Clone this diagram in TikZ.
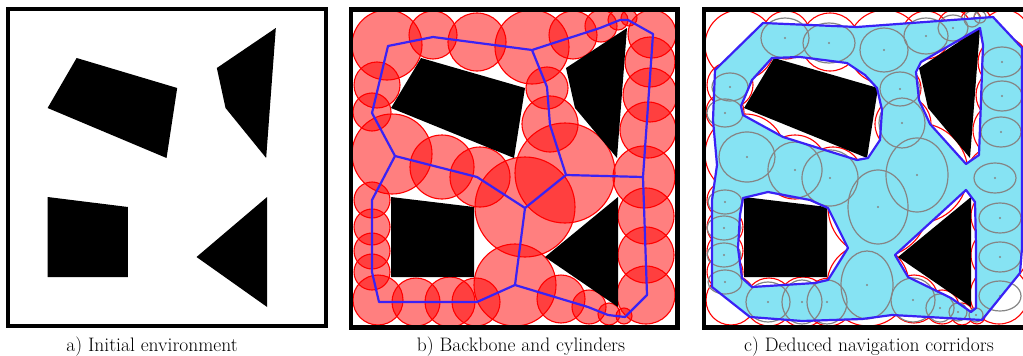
\documentclass[tikz,border=0pt]{standalone}
\usepackage{tikz}
\definecolor{Spine}{HTML}{3A22F5}
\definecolor{Corridor}{HTML}{86E3F3}
\definecolor{Gate}{HTML}{858585}

% the four obstacles, in panel coordinates
\newcommand{\obstacles}{%
  \fill[obst] (72,50) -- (176,80) -- (165,150) -- (42,100) -- cycle;
  \fill[obst] (217,60) -- (278,20) -- (268,150) -- (226,100) -- cycle;
  \fill[obst] (42,189) -- (125,199) -- (125,269) -- (42,269) -- cycle;
  \fill[obst] (269,189) -- (269,299) -- (196,249) -- cycle;
}
% cylinders along the backbone: x/y/radius
\newcommand{\cylinders}[1]{%
  \foreach \cx/\cy/\cr in {38/37/35, 84/27/24, 128/34/29, 183/39/37, 224/27/24,
      252/18/16, 269/12/10, 280/10/8, 303/26/24, 301/54/25, 301/87/27, 299/122/28,
      295/169/31, 297/208/28, 297/247/28, 297/287/29, 275/308/8, 260/306/11,
      240/299/17, 212/291/24, 166/277/41, 127/294/24, 101/294/25, 67/294/24,
      29/292/25, 23/264/18, 23/243/18, 23/219/18, 23/192/18, 43/146/40,
      23/104/19, 28/77/23, 93/159/32, 131/169/30, 176/199/50, 216/165/50,
      201/116/28, 198/80/21}
    \draw[#1] (\cx,\cy) circle [radius=\cr];
}

\begin{document}
\begin{tikzpicture}[
  x=1pt, y=-1pt,
  obst/.style={fill=black},
  frameline/.style={draw=black, line width=4.5pt},
  cyl/.style={draw=red, fill=red, fill opacity=0.5, line width=1.1pt},
  cylring/.style={draw=red, line width=1.1pt},
  gate/.style={draw=Gate, line width=1.2pt},
  spine/.style={draw=Spine, line width=2.2pt, line join=round},
  caption/.style={anchor=base, font=\fontsize{19.5}{23}\selectfont}
]
  \useasboundingbox (0,0) rectangle (1023,356);
  \clip (0,0) rectangle (1023,356);

  % a) initial environment
  \begin{scope}[shift={(7,8)}, xscale=0.967]
    \obstacles
    \draw[frameline] (1,1) rectangle (330,318);
  \end{scope}
  \node[caption] (capA) at (152,351) {a) Initial environment};

  % b) backbone and cylinders
  \begin{scope}[shift={(349,8)}]
    \cylinders{cyl}
    \obstacles
    \coordinate (bA) at (39,38);
    \coordinate (bB) at (84,29);
    \coordinate (bC) at (183,42);
    \coordinate (bD) at (251,20);
    \coordinate (bE) at (271,12);
    \coordinate (bF) at (279,12);
    \coordinate (bG) at (304,26);
    \coordinate (bH) at (294,169);
    \coordinate (bI) at (298,287);
    \coordinate (bJ) at (276,309);
    \coordinate (bK) at (259,307);
    \coordinate (bKk) at (239,299);
    \coordinate (bL) at (166,277);
    \coordinate (bM) at (128,294);
    \coordinate (bN) at (30,294);
    \coordinate (bO) at (23,264);
    \coordinate (bP) at (23,192);
    \coordinate (bQ) at (46,148);
    \coordinate (bR) at (23,105);
    \coordinate (bS) at (198,79);
    \coordinate (bT) at (201,117);
    \coordinate (bU) at (217,167);
    \coordinate (bV) at (176,200);
    \coordinate (bW) at (128,169);
    \draw[spine] (bA) -- (bB) -- (bC) -- (bD) -- (bE) -- (bF) -- (bG) -- (bH)
      -- (bI) -- (bJ) -- (bK) -- (bKk) -- (bL) -- (bM) -- (bN) -- (bO) -- (bP)
      -- (bQ) -- (bR) -- cycle;
    \draw[spine] (bC) -- (bS) -- (bT) -- (bU) -- (bH);
    \draw[spine] (bU) -- (bV) -- (bW) -- (bQ);
    \draw[spine] (bV) -- (bL);
    \draw[frameline] (2,1.5) rectangle (328.5,319.5);
  \end{scope}
  \node[caption] (capB) at (521,351) {b) Backbone and cylinders};

  % c) deduced navigation corridors
  \begin{scope}[shift={(702,8)}]
    \cylinders{cylring}
    \fill[Corridor, even odd rule]
      (10,279) -- (48,309) -- (100,313) -- (160,311) -- (190,307) -- (280,312)
      -- (318,265) -- (320,240) -- (320,40) -- (291,9) -- (155,19)
      -- (61,15) -- (13,62) -- (11,112) -- (15,157) -- (10,192) -- cycle
      (70,50) -- (98,49) -- (145,55) -- (163,67) -- (175,80) -- (180,102)
      -- (178,132) -- (166,150) -- (155,152) -- (81,129) -- (41,107) -- (39,98)
      -- (50,72) -- cycle
      (219,54) -- (278,20) -- (281,37) -- (277,147) -- (264,156) -- (228,116)
      -- (217,92) -- (214,64) -- cycle
      (41,190) -- (66,184) -- (108,192) -- (126,200) -- (146,240) -- (126,272)
      -- (113,275) -- (50,279) -- (40,270) -- (36,240) -- (38,207) -- cycle
      (264,182) -- (273,194) -- (274,237) -- (274,300) -- (269,304) -- (249,290)
      -- (206,269) -- (193,247) -- cycle;
    \foreach \ex/\ey/\rx/\ry in {83/30/24/20, 127/35/26/20, 182/42/24/22,
        224/28/22/18, 251/20/15/13, 270/11/8/8, 278/9/6/6, 300/54/20/15,
        300/88/20/15, 299/124/20/15, 293/170/21/15, 298/210/21/15, 298/249/21/15,
        298/288/21/15, 274/307/7/7, 256/304/9/9, 238/300/14/14, 211/292/22/22,
        165/277/26/34, 125/294/20/22, 100/294/20/22, 66/294/22/20, 23/274/17/12,
        22/247/17/12, 22/220/17/12, 23/194/17/12, 45/149/28/25, 23/105/18/14,
        28/79/18/14, 93/162/27/28, 128/170/28/28, 176/199/30/37, 215/167/31/37,
        200/115/23/25, 198/81/20/17} {
      \draw[gate] (\ex,\ey) ellipse [x radius=\rx, y radius=\ry];
      \fill[Gate] (\ex,\ey) circle [radius=1.2];
    }
    \obstacles
    \draw[spine]
      (10,279) -- (48,309) -- (100,313) -- (160,311) -- (190,307) -- (280,312)
      -- (318,265) -- (320,240) -- (320,40) -- (291,9) -- (155,19)
      -- (61,15) -- (13,62) -- (11,112) -- (15,157) -- (10,192) -- cycle;
    \draw[spine] (70,50) -- (98,49) -- (145,55) -- (163,67) -- (175,80)
      -- (180,102) -- (178,132) -- (166,150) -- (155,152) -- (81,129)
      -- (41,107) -- (39,98) -- (50,72) -- cycle;
    \draw[spine] (219,54) -- (278,20) -- (281,37) -- (277,147) -- (264,156)
      -- (228,116) -- (217,92) -- (214,64) -- cycle;
    \draw[spine] (41,190) -- (66,184) -- (108,192) -- (126,200) -- (146,240)
      -- (126,272) -- (113,275) -- (50,279) -- (40,270) -- (36,240) -- (38,207)
      -- cycle;
    \draw[spine] (264,182) -- (273,194) -- (274,237) -- (274,300) -- (269,304)
      -- (249,290) -- (206,269) -- (193,247) -- cycle;
    \draw[frameline] (2,1.5) rectangle (328.5,319.5);
  \end{scope}
  \node[caption] (capC) at (869,351) {c) Deduced navigation corridors};
\end{tikzpicture}
\end{document}
